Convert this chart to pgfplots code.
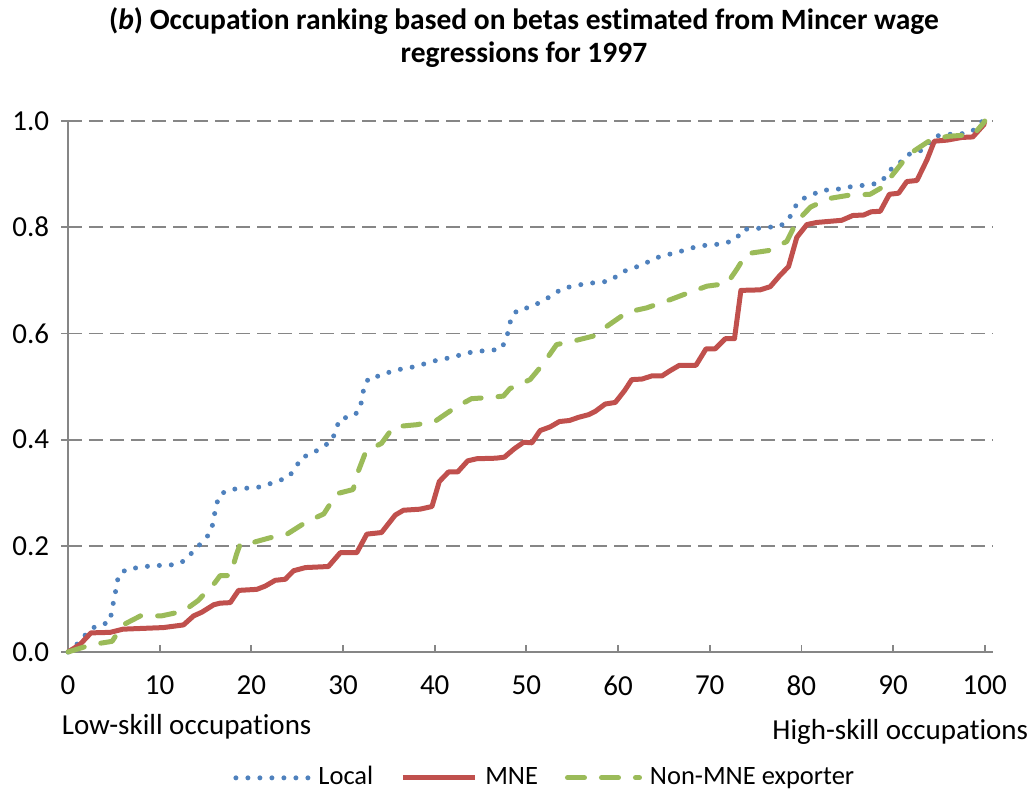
\documentclass[border=0pt]{standalone}
\usepackage{fontspec}
\setmainfont[Ligatures=NoCommon]{Carlito}
\usepackage{pgfplots}
\pgfplotsset{compat=1.18}
\definecolor{locblue}{HTML}{4F81BD}
\definecolor{mnered}{HTML}{C0504D}
\definecolor{nongreen}{HTML}{9BBB59}
\definecolor{gridgray}{HTML}{868686}
\begin{document}
\fontsize{29}{34}\selectfont
\begin{tikzpicture}[font=\fontsize{29}{34}\selectfont]
\useasboundingbox (-68pt,-141pt) rectangle (965pt,652pt);
\begin{axis}[
  at={(0pt,0pt)}, anchor=south west,
  width=925pt, height=531pt, scale only axis,
  xmin=0, xmax=100.9, ymin=0, ymax=1,
  xtick={0,10,...,100}, ytick={0,0.2,0.4,0.6,0.8,1.0},
  axis x line*=bottom, axis y line*=left,
  axis line style={gridgray, line width=2pt},
  ymajorgrids,
  major grid style={gridgray, line width=1.8pt, dash pattern=on 14pt off 7pt},
  xtick align=inside, ytick align=outside,
  major tick length=7pt,
  tick style={gridgray, line width=1.8pt},
  /pgf/number format/assume math mode=true,
  yticklabel style={/pgf/number format/fixed, /pgf/number format/fixed zerofill, /pgf/number format/precision=1, xshift=-2pt},
  xticklabel style={yshift=-14pt},
  tick label style={font=\fontsize{29}{34}\selectfont},
  clip=false,
  legend image code/.code={\draw[#1] (0pt,0pt) -- (72pt,0pt);},
  legend columns=3,
  legend cell align=left,
  legend style={draw=none, fill=none, at={(0.516,-0.237)}, anchor=center,
    font=\fontsize{26.5}{31}\selectfont,
    nodes={inner sep=3pt},
    /tikz/every odd column/.append style={column sep=5pt},
    /tikz/every even column/.append style={column sep=24pt}},
]
\addplot[locblue, line width=5pt, line cap=round, dash pattern=on 0pt off 12pt] coordinates {
(0,0) (1,0.015) (2.2,0.038) (3.2,0.051) (4.5,0.055) (4.8,0.077) (5.0,0.099) (5.3,0.123) (5.5,0.145) (6.5,0.157) (7.9,0.159) (9.2,0.163) (10.5,0.163) (11.9,0.165) (12.9,0.174) (13.8,0.193) (14.8,0.209) (15.6,0.227) (15.9,0.250) (16.1,0.272) (16.5,0.295) (17.4,0.305) (18.7,0.308) (20.1,0.309) (21.4,0.312) (22.7,0.322) (23.9,0.327) (24.8,0.345) (25.4,0.366) (26.6,0.373) (27.7,0.386) (28.8,0.397) (29.2,0.419) (29.7,0.440) (31.0,0.443) (31.8,0.455) (32.1,0.479) (32.3,0.501) (32.9,0.518) (34.2,0.520) (35.4,0.530) (36.8,0.534) (38.0,0.538) (39.3,0.545) (40.6,0.551) (42.0,0.555) (43.2,0.562) (44.5,0.566) (45.9,0.568) (47.2,0.570) (47.8,0.588) (48.1,0.611) (48.4,0.633) (49.2,0.646) (50.5,0.649) (51.7,0.661) (52.9,0.672) (53.9,0.685) (55.2,0.689) (56.5,0.694) (57.9,0.696) (59.2,0.699) (60.2,0.713) (61.3,0.722) (62.6,0.728) (63.8,0.740) (65.0,0.747) (66.4,0.752) (67.6,0.759) (69.0,0.765) (70.3,0.767) (71.6,0.769) (72.9,0.778) (73.6,0.796) (74.9,0.797) (76.3,0.800) (77.6,0.801) (78.6,0.814) (79.2,0.836) (79.9,0.852) (81.1,0.860) (82.2,0.870) (83.5,0.870) (84.9,0.875) (86.2,0.878) (87.6,0.880) (88.8,0.886) (89.5,0.906) (90.5,0.917) (91.6,0.937) (92.7,0.940) (93.7,0.954) (94.5,0.971) (95.9,0.975) (97.2,0.975) (98.6,0.980) (99.7,0.999) (100,1.0)
};
\addlegendentry{Local}
\addplot[mnered, line width=5pt, line join=round] coordinates {
(0,0) (1.3,0.014) (2.5,0.036) (4.6,0.037) (6.0,0.043) (10.4,0.046) (12.6,0.051) (13.7,0.068) (14.6,0.075) (15.9,0.089) (16.6,0.092) (17.7,0.093) (18.6,0.116) (20.6,0.118) (21.5,0.124) (22.6,0.135) (23.7,0.137) (24.6,0.153) (25.9,0.159) (28.4,0.161) (29.7,0.187) (31.5,0.187) (32.6,0.222) (34.2,0.225) (35.7,0.258) (36.6,0.267) (38.4,0.269) (39.7,0.274) (40.5,0.321) (41.5,0.339) (42.5,0.339) (43.6,0.360) (44.6,0.364) (46.7,0.365) (47.6,0.367) (48.7,0.383) (49.7,0.395) (50.6,0.394) (51.5,0.417) (52.6,0.424) (53.6,0.434) (54.7,0.436) (55.7,0.442) (56.8,0.447) (57.5,0.453) (58.6,0.467) (59.7,0.470) (60.7,0.492) (61.5,0.513) (62.6,0.514) (63.7,0.520) (64.8,0.520) (65.7,0.530) (66.7,0.540) (68.5,0.540) (69.6,0.571) (70.6,0.571) (71.7,0.590) (72.7,0.590) (73.4,0.681) (75.5,0.682) (76.6,0.688) (77.6,0.708) (78.6,0.726) (79.5,0.781) (80.6,0.805) (81.7,0.809) (84.4,0.813) (85.6,0.822) (86.8,0.823) (87.6,0.829) (88.6,0.830) (89.6,0.862) (90.6,0.864) (91.5,0.886) (92.6,0.888) (93.7,0.927) (94.5,0.962) (95.9,0.964) (97.5,0.969) (98.7,0.970) (99.9,0.993) (100,1.0)
};
\addlegendentry{MNE}
\addplot[nongreen, line width=5pt, line cap=round, line join=round, dash pattern=on 17pt off 17pt] coordinates {
(0,0) (2.6,0.014) (4.8,0.020) (6.0,0.051) (7.9,0.068) (10.2,0.068) (12.6,0.077) (14.2,0.097) (16.0,0.130) (16.6,0.144) (17.7,0.144) (18.4,0.185) (18.8,0.204) (19.7,0.204) (22.0,0.215) (23.9,0.222) (26.0,0.245) (27.9,0.260) (29.3,0.298) (31.1,0.306) (31.7,0.342) (32.5,0.378) (34.2,0.393) (35.5,0.424) (38.0,0.428) (40.0,0.434) (42.2,0.460) (44.0,0.477) (46.4,0.480) (47.5,0.482) (48.2,0.496) (50.4,0.513) (51.8,0.542) (53.3,0.579) (55.0,0.585) (57.3,0.595) (59.0,0.616) (61.0,0.640) (63.1,0.648) (65.3,0.661) (67.3,0.674) (69.7,0.689) (71.9,0.694) (73.0,0.722) (74.0,0.750) (76.4,0.756) (78.4,0.773) (79.5,0.811) (81.0,0.838) (83.0,0.854) (85.1,0.860) (87.5,0.862) (88.9,0.876) (90.6,0.913) (91.7,0.937) (93.9,0.962) (95.9,0.971) (97.5,0.973) (98.8,0.975) (99.9,0.997) (100,1.0)
};
\addlegendentry{Non-MNE exporter}
\end{axis}
\node[align=center, font=\fontsize{29.5}{33}\selectfont\bfseries] at (456pt,614pt)
  {(\textit{b}) Occupation ranking based on betas estimated from Mincer wage\\regressions for 1997};
\node[anchor=west] at (-16pt,-75pt) {Low-skill occupations};
\node[anchor=east] at (970pt,-80pt) {High-skill occupations};
\end{tikzpicture}
\end{document}
